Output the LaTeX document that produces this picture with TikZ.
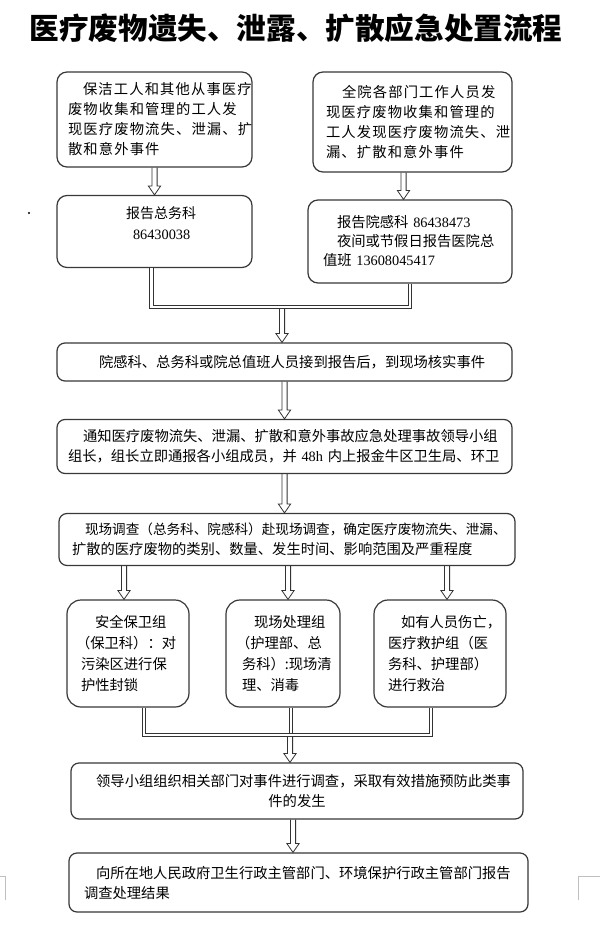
\documentclass[tikz,border=0pt]{standalone}
\usepackage{fontspec}
\setmainfont{Noto Sans CJK SC}
\newfontfamily\num{Liberation Serif}
\newfontfamily\cjkw[LetterSpace=8]{Noto Sans CJK SC}
\usetikzlibrary{calc}
\tikzset{
 box/.style={draw=black!78, line width=1.2pt, rounded corners=10pt, align=left,
   font=\fontsize{14.3}{20}\selectfont, inner ysep=0pt},
 hollow/.style={draw=black!80, line width=0.8pt, to path={
   let \p1=(\tikztostart), \p2=(\tikztotarget) in
   (\x1-2.6pt,\y1) -- (\x1-2.6pt,\y2+9pt) -- (\x1-6.2pt,\y2+9pt) -- (\x1,\y2)
   -- (\x1+6.2pt,\y2+9pt) -- (\x1+2.6pt,\y2+9pt) -- (\x1+2.6pt,\y1)}},
 dbl/.style={draw=black!80, line width=0.75pt, double=white, double distance=2.6pt},
 pagemark/.style={draw=black!25, line width=0.8pt}
}
\begin{document}
\begin{tikzpicture}[x=1pt,y=-1pt]
\useasboundingbox[fill=white] (0,0) rectangle (600,944);
% title
\node[font=\fontsize{29.6}{34}\selectfont\bfseries] (T) at (296,28) {医疗废物遗失、泄露、扩散应急处置流程};
% dot and page marks
\fill[black] (29,213) circle (1.1pt);
\draw[pagemark] (0,876) -- (5,876) -- (5,900);
\draw[pagemark] (600,876) -- (578,876) -- (578,900);
% top boxes
\node[box, minimum width=195pt, minimum height=95pt, text width=173pt, inner xsep=11pt] (A) at (154.5,119.5)
 {\cjkw\hspace*{15pt}保洁工人和其他从事医疗\\废物收集和管理的工人发\\现医疗废物流失、泄漏、扩\\散和意外事件};
\node[box, minimum width=195pt, minimum height=72pt, text width=173pt, inner xsep=11pt,
 font=\fontsize{14}{21}\selectfont] (B) at (154.5,231.5)
 {\hspace*{58pt}报告总务科\\\hspace*{65pt}{\fontsize{14.3}{21}\selectfont\num 86430038}\\[-5pt]~};
\node[box, minimum width=199pt, minimum height=100pt, text width=173pt, inner xsep=13pt] (C) at (412.5,122)
 {\cjkw\hspace*{16pt}全院各部门工作人员发\\现医疗废物收集和管理的\\工人发现医疗废物流失、泄\\漏、扩散和意外事件};
\node[box, minimum width=204pt, minimum height=83pt, text width=182pt, inner xsep=11pt,
 font=\fontsize{14.3}{19}\selectfont] (D) at (410,241.5)
 {\hspace*{18pt}报告院感科 {\num 86438473}\\\hspace*{18pt}夜间或节假日报告医院总\\\hspace*{4pt}值班 {\num 13608045417}};
% middle boxes
\node[box, rounded corners=8pt, minimum width=455pt, minimum height=38pt, text width=433pt, inner xsep=11pt] (E) at (284.5,362)
 {\hspace*{31pt}院感科、总务科或院总值班人员接到报告后，到现场核实事件};
\node[box, rounded corners=8pt, minimum width=455pt, minimum height=54pt, text width=433pt, inner xsep=11pt] (F) at (284.5,446.5)
 {\hspace*{15pt}通知医疗废物流失、泄漏、扩散和意外事故应急处理事故领导小组\\组长，组长立即通报各小组成员，并 {\num 48h} 内上报金牛区卫生局、环卫};
\node[box, rounded corners=8pt, minimum width=456pt, minimum height=52pt, text width=438pt, inner xsep=9pt] (G) at (287,539.5)
 {\hspace*{17pt}{\fontsize{13.6}{19}\selectfont 现场调查（总务科、院感科）赴现场调查，确定医疗废物流失、泄漏、}\\\hspace*{4pt}扩散的医疗废物的类别、数量、发生时间、影响范围及严重程度};
% small boxes
\node[box, rounded corners=14pt, minimum width=122pt, minimum height=107pt, text width=94pt, inner xsep=14pt,
 font=\fontsize{14.3}{21}\selectfont] (S1) at (128,653.5)
 {\hspace*{14pt}安全保卫组\\\hspace*{-5pt}（保卫科）：对\\污染区进行保\\护性封锁};
\node[box, rounded corners=14pt, minimum width=114pt, minimum height=107pt, text width=82pt, inner xsep=16pt,
 font=\fontsize{14.3}{21}\selectfont] (S2) at (283,653.5)
 {\hspace*{12pt}现场处理组\\\hspace*{-6pt}（护理部、总\\务科）:现场清\\理、消毒};
\node[box, rounded corners=14pt, minimum width=132pt, minimum height=107pt, text width=104pt, inner xsep=14pt,
 font=\fontsize{14.3}{21}\selectfont] (S3) at (440,653.5)
 {\hspace*{13pt}如有人员伤亡，\\医疗救护组（医\\务科、护理部）\\进行救治};
% bottom boxes
\node[box, rounded corners=8pt, minimum width=452pt, minimum height=56pt, text width=430pt, inner xsep=11pt, align=center] (H) at (297,791)
 {\hspace*{13pt}领导小组组织相关部门对事件进行调查，采取有效措施预防此类事\\件的发生};
\node[box, rounded corners=8pt, minimum width=459pt, minimum height=59pt, text width=429pt, inner xsep=15pt] (I) at (298.5,882.5)
 {\hspace*{12pt}向所在地人民政府卫生行政主管部门、环境保护行政主管部门报告\\调查处理结果};
% coordinates
\coordinate (j1) at (282,307);
\coordinate (j2) at (290,735);
\coordinate (cC) at ([xshift=-9pt]C.south);
\coordinate (bB) at ([xshift=-3pt]B.south);
\coordinate (a1) at ([xshift=-4pt]S1.north);
\coordinate (a2) at ([xshift=5pt]S2.north);
\coordinate (a3) at ([xshift=7pt]S3.north);
\coordinate (b1) at ([xshift=16pt]S1.south);
\coordinate (b2) at ([xshift=8pt]S2.south);
\coordinate (b3) at ([xshift=-9pt]S3.south);
\coordinate (hH) at ([xshift=-4pt]H.south);
% hollow arrows
\draw[hollow] (A.south) to (B.north);
\draw[hollow] (cC) to (cC |- D.north);
\draw[hollow] (j1) to (j1 |- E.north);
\draw[hollow] (E.south) to (F.north);
\draw[hollow] (F.south) to (F.south |- G.north);
\draw[hollow] (a1 |- G.south) to (a1);
\draw[hollow] (a2 |- G.south) to (a2);
\draw[hollow] (a3 |- G.south) to (a3);
\draw[hollow] (j2) to (j2 |- H.north);
\draw[hollow] (hH) to (hH |- I.north);
% double connectors
\draw[dbl] (b2) -- (b2 |- j2);
\draw[dbl] (bB) |- (j1) -| (D.south);
\draw[dbl] (b1) |- (j2) -| (b3);
\end{tikzpicture}
\end{document}
